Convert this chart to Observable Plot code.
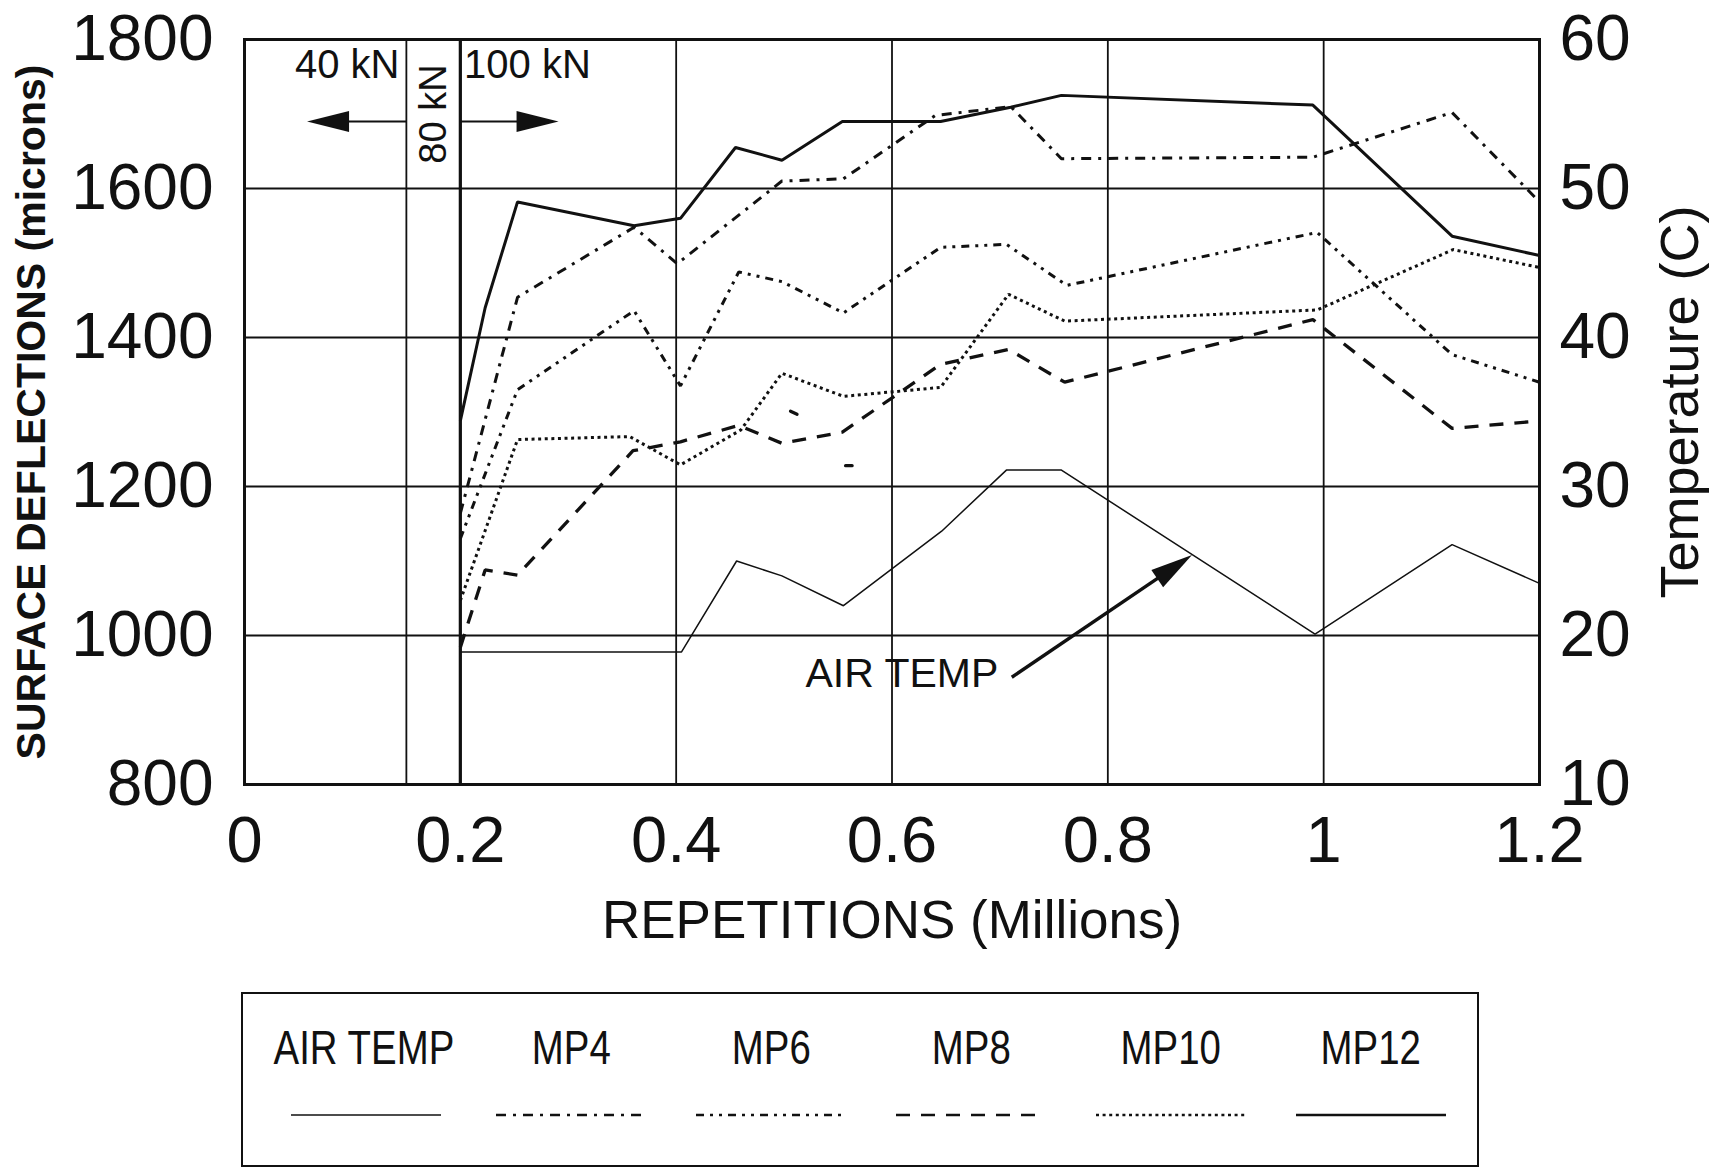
<!DOCTYPE html>
<html>
<head>
<meta charset="utf-8">
<script src="https://cdn.jsdelivr.net/npm/d3@7"></script>
<script src="https://cdn.jsdelivr.net/npm/@observablehq/plot@0.6"></script>
<style>
  html, body { margin: 0; padding: 0; background: #fff; }
  #wrap { position: relative; width: 1715px; height: 1168px; overflow: hidden;
          font-family: "Liberation Sans", Arial, sans-serif; color: #111; }
  #chart svg { display: block; }
  #legend { position: absolute; left: 241px; top: 992px; width: 1238px; height: 175px;
            box-sizing: border-box; border: 2.5px solid #111; }
  .item { position: absolute; top: 30px; width: 200px; text-align: center; }
  .item .lab { position: relative; display: inline-block; font-size: 48px; line-height: 48px;
               transform: scaleX(0.8); transform-origin: center; white-space: nowrap; }
  .item svg { position: absolute; left: 25px; top: 86px; }
</style>
</head>
<body>
<div id="wrap">
  <div id="chart"></div>
  <div id="legend"></div>
</div>
<script>
// ---- axes ----
const xTicks = [0, 0.2, 0.4, 0.6, 0.8, 1, 1.2];          // repetitions, millions
const deflTicks = [800, 1000, 1200, 1400, 1600, 1800];   // surface deflection, microns
const tempTicks = [10, 20, 30, 40, 50, 60];              // air temperature, C
const xGrid = [0.2, 0.4, 0.6, 0.8, 1];
const yGrid = [1000, 1200, 1400, 1600];
const loadChanges = [0.15, 0.2];                         // 40 -> 80 kN, 80 -> 100 kN

// ---- series (x: millions of repetitions) ----
const repsAir = [0.2, 0.405, 0.456, 0.498, 0.555, 0.646, 0.706, 0.757, 0.992, 1.119, 1.2];
const tempAir = [18.9, 18.9, 25.0, 24.0, 22.0, 27.0, 31.1, 31.1, 20.1, 26.1, 23.5];

const repsMP4 = [0.2, 0.253, 0.361, 0.401, 0.498, 0.555, 0.64, 0.71, 0.757, 0.99, 1.119, 1.2];
const deflMP4 = [1164, 1454, 1548, 1499, 1610, 1613, 1698, 1710, 1640, 1642, 1702, 1582];

const repsMP6 = [0.2, 0.253, 0.361, 0.404, 0.458, 0.498, 0.555, 0.645, 0.706, 0.762, 0.994, 1.119, 1.2];
const deflMP6 = [1130, 1330, 1436, 1335, 1488, 1475, 1433, 1521, 1525, 1470, 1541, 1377, 1340];

const repsMP8 = [0.2, 0.223, 0.253, 0.36, 0.404, 0.458, 0.498, 0.554, 0.645, 0.708, 0.76, 0.99, 1.119, 1.2];
const deflMP8 = [984, 1088, 1081, 1248, 1260, 1282, 1258, 1273, 1364, 1384, 1340, 1424, 1278, 1288];

const repsMP10 = [0.2, 0.253, 0.357, 0.404, 0.46, 0.498, 0.555, 0.645, 0.708, 0.76, 0.994, 1.12, 1.2];
const deflMP10 = [1047, 1263, 1267, 1229, 1276, 1352, 1321, 1333, 1458, 1422, 1437, 1518, 1494];

const repsMP12 = [0.2, 0.223, 0.253, 0.361, 0.404, 0.455, 0.498, 0.554, 0.645, 0.71, 0.757, 0.99, 1.119, 1.2];
const deflMP12 = [1288, 1440, 1582, 1550, 1560, 1655, 1638, 1690, 1690, 1709, 1725, 1712, 1536, 1510];

// two short loose dashes of the MP8 trace
const repsMP8Bits = [[0.506, 0.512], [0.557, 0.563]];
const deflMP8Bits = [[1301, 1297], [1228, 1228]];

// ---- layout ----
const W = 1715, H = 970;
const mL = 244, mR = 176, mT = 39, mB = 186;
const INK = "#111";

// temperature shares the frame with deflection: 10..60 C <-> 800..1800 microns
const toDefl = d3.scaleLinear([tempTicks[0], tempTicks[tempTicks.length - 1]],
                              [deflTicks[0], deflTicks[deflTicks.length - 1]]);

const series = [
  {name: "AIR TEMP", reps: repsAir,  vals: tempAir.map(toDefl)},
  {name: "MP4",      reps: repsMP4,  vals: deflMP4},
  {name: "MP6",      reps: repsMP6,  vals: deflMP6},
  {name: "MP8",      reps: repsMP8,  vals: deflMP8},
  {name: "MP10",     reps: repsMP10, vals: deflMP10},
  {name: "MP12",     reps: repsMP12, vals: deflMP12}
];
const styles = {
  "AIR TEMP": {width: 1.5, dash: null},
  "MP4":      {width: 3,   dash: "10,7,3,7"},
  "MP6":      {width: 3,   dash: "8,6,3,6,3,6"},
  "MP8":      {width: 3.3, dash: "14,11"},
  "MP10":     {width: 3,   dash: "3,3.6"},
  "MP12":     {width: 3,   dash: null}
};

// pixel mapping (same as the plot's scales) used to orient arrowheads
const sx = d3.scaleLinear([xTicks[0], xTicks[xTicks.length - 1]], [mL, W - mR]);
const sy = d3.scaleLinear([deflTicks[0], deflTicks[deflTicks.length - 1]], [H - mB, mT]);
const HEAD_L = 42, HEAD_W = 21;
const arrowHead = {
  draw(ctx) {
    ctx.moveTo(0, 0);
    ctx.lineTo(-HEAD_L, -HEAD_W / 2);
    ctx.lineTo(-HEAD_L, HEAD_W / 2);
    ctx.closePath();
  }
};
function arrow(a) {
  const px1 = sx(a.x1), py1 = sy(a.y1), px2 = sx(a.x2), py2 = sy(a.y2);
  const ang = Math.atan2(py2 - py1, px2 - px1);
  const back = HEAD_L * 0.8;
  return {...a,
    xb: sx.invert(px2 - Math.cos(ang) * back),
    yb: sy.invert(py2 - Math.sin(ang) * back),
    angle: ang * 180 / Math.PI};
}

// ---- annotations ----
const loadArrows = [
  {x1: 0.15, y1: 1690, x2: 0.058, y2: 1690},
  {x1: 0.2,  y1: 1690, x2: 0.291, y2: 1690}
].map(arrow);
const airArrow = [{x1: 0.711, y1: toDefl(17.2), x2: 0.878, y2: toDefl(25.4)}].map(arrow);

const noteLeft  = [{label: "40 kN",  x: 0.1436, y: 1766}];
const noteRight = [{label: "100 kN", x: 0.2035, y: 1766}];
const noteMid   = [{label: "80 kN",  x: 0.1755, y: 1700}];
const noteAir   = [{label: "AIR TEMP", x: 0.6985, y: toDefl(17.45)}];

const lineMarks = series.map(s => Plot.line(d3.zip(s.reps, s.vals), {
  x: d => d[0], y: d => d[1],
  stroke: INK, strokeWidth: styles[s.name].width,
  strokeDasharray: styles[s.name].dash || undefined,
  strokeLinejoin: "miter", strokeLinecap: "butt"
}));
const bitMarks = repsMP8Bits.map((r, i) => Plot.line(d3.zip(r, deflMP8Bits[i]), {
  x: d => d[0], y: d => d[1], stroke: INK, strokeWidth: 3.3
}));

const chart = Plot.plot({
  width: W, height: H,
  marginLeft: mL, marginRight: mR, marginTop: mT, marginBottom: mB,
  x: {domain: [xTicks[0], xTicks[xTicks.length - 1]]},
  y: {domain: [deflTicks[0], deflTicks[deflTicks.length - 1]]},
  style: {fontFamily: "'Liberation Sans', Arial, sans-serif", color: INK, background: "#fff", overflow: "visible"},
  marks: [
    Plot.gridX(xGrid, {stroke: INK, strokeOpacity: 1, strokeWidth: 1.8}),
    Plot.gridY(yGrid, {stroke: INK, strokeOpacity: 1, strokeWidth: 1.8}),
    Plot.ruleX(loadChanges, {stroke: INK, strokeWidth: d => d === 0.2 ? 3.2 : 1.8}),
    Plot.frame({stroke: INK, strokeWidth: 3}),
    ...lineMarks,
    ...bitMarks,
    // load zone labels and arrows
    Plot.text(noteLeft,  {x: "x", y: "y", text: "label", textAnchor: "end",   lineAnchor: "middle", fontSize: 40}),
    Plot.text(noteRight, {x: "x", y: "y", text: "label", textAnchor: "start", lineAnchor: "middle", fontSize: 40}),
    Plot.text(noteMid,   {x: "x", y: "y", text: "label", rotate: -90, textAnchor: "middle", lineAnchor: "middle", fontSize: 38}),
    Plot.link(loadArrows, {x1: "x1", y1: "y1", x2: "xb", y2: "yb", stroke: INK, strokeWidth: 2}),
    Plot.dot(loadArrows, {x: "x2", y: "y2", symbol: arrowHead, r: 10, rotate: "angle", fill: INK, stroke: "none"}),
    // air temperature pointer
    Plot.text(noteAir, {x: "x", y: "y", text: "label", textAnchor: "end", lineAnchor: "middle", fontSize: 41}),
    Plot.link(airArrow, {x1: "x1", y1: "y1", x2: "xb", y2: "yb", stroke: INK, strokeWidth: 3.4}),
    Plot.dot(airArrow, {x: "x2", y: "y2", symbol: arrowHead, r: 10, rotate: "angle", fill: INK, stroke: "none"}),
    // axes
    Plot.axisX(xTicks, {tickSize: 0, tickPadding: 31, fontSize: 65, label: null, tickFormat: d => String(d)}),
    Plot.axisY(deflTicks, {anchor: "left", tickSize: 0, tickPadding: 31, fontSize: 64, label: null, tickFormat: d => String(d)}),
    Plot.axisY(tempTicks.map(toDefl), {anchor: "right", tickSize: 0, tickPadding: 20, fontSize: 64, label: null,
      tickFormat: d => String(Math.round(toDefl.invert(d)))}),
    Plot.text(["REPETITIONS (Millions)"], {text: d => d, frameAnchor: "bottom", dy: 137,
      textAnchor: "middle", lineAnchor: "middle", fontSize: 53}),
    Plot.text(["SURFACE DEFLECTIONS (microns)"], {text: d => d, frameAnchor: "left", dx: -213, rotate: -90,
      textAnchor: "middle", lineAnchor: "middle", fontSize: 41, fontWeight: "bold"}),
    Plot.text(["Temperature (C)"], {text: d => d, frameAnchor: "right", dx: 141, dy: -10, rotate: -90,
      textAnchor: "middle", lineAnchor: "middle", fontSize: 54})
  ]
});
document.getElementById("chart").appendChild(chart);

// ---- legend ----
const legend = d3.select("#legend");
series.forEach((s, i) => {
  const st = styles[s.name];
  const item = legend.append("div").attr("class", "item")
    .style("left", (28 + i * 200 - (i === 0 ? 5 : 0)) + "px");
  item.append("span").attr("class", "lab").style("left", i === 0 ? "-15px" : "0px").text(s.name);
  const svg = item.append("svg").attr("width", 150).attr("height", 10);
  svg.append("line").attr("x1", 0).attr("x2", 150).attr("y1", 5).attr("y2", 5)
    .attr("stroke", INK).attr("stroke-width", Math.min(st.width, 2.6))
    .attr("stroke-dasharray", st.dash);
});
</script>
</body>
</html>
